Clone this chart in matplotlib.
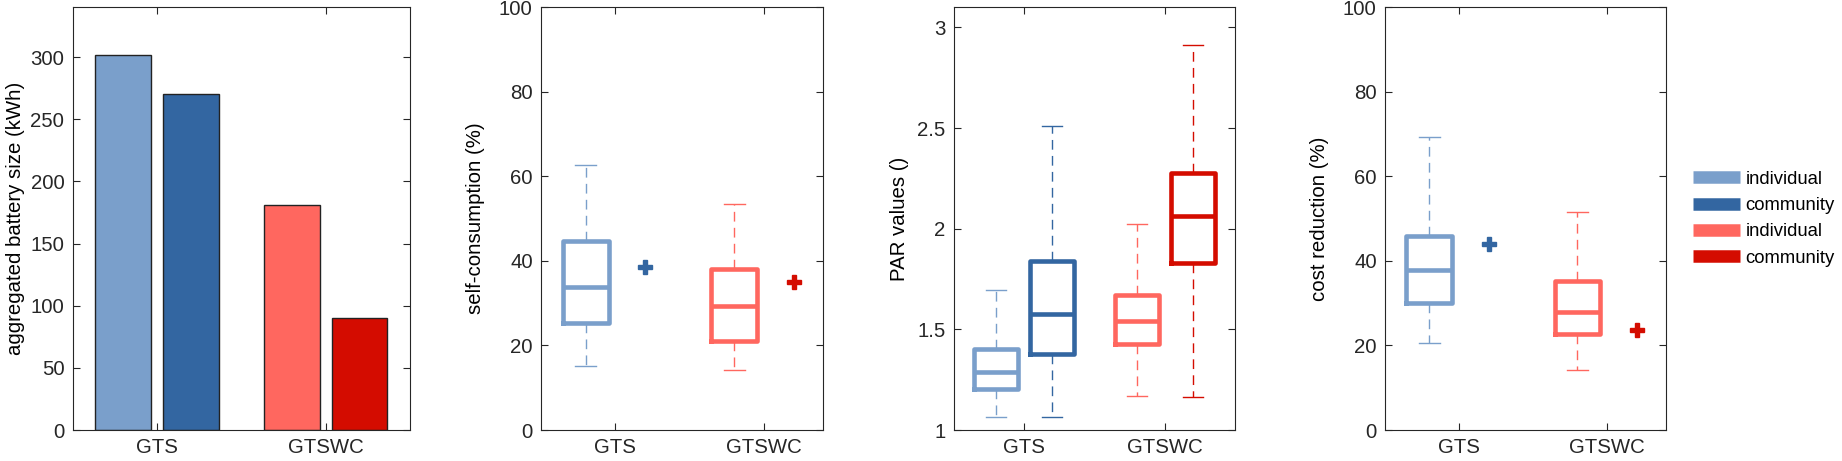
import matplotlib
matplotlib.use("Agg")
import matplotlib.pyplot as plt
from matplotlib.lines import Line2D

plt.rcParams['font.family'] = ['Liberation Sans', 'DejaVu Sans']

# colores
c_ind_gts = "#7a9fcb"
c_com_gts = "#3366a1"
c_ind_wc = "#ff675f"
c_com_wc = "#d40c00"

grupos = ["GTS", "GTSWC"]

# panel 1: tamaño de batería agregado (kWh)
bateria_individual = [302, 181]
bateria_comunidad = [270, 90]

# panel 2: autoconsumo (%)  [whislo, q1, med, q3, whishi]
autoc_gts_ind = [15.1, 25.2, 33.9, 44.6, 62.8]
autoc_wc_ind = [14.2, 21.0, 29.3, 38.0, 53.5]
autoc_comunidad = [38.6, 34.9]

# panel 3: valores PAR
par_gts_ind = [1.065, 1.204, 1.287, 1.403, 1.697]
par_gts_com = [1.065, 1.380, 1.574, 1.838, 2.512]
par_wc_ind = [1.169, 1.428, 1.541, 1.672, 2.023]
par_wc_com = [1.164, 1.829, 2.063, 2.277, 2.915]

# panel 4: reducción de costo (%)
costo_gts_ind = [20.5, 30.1, 37.9, 45.9, 69.2]
costo_wc_ind = [14.1, 22.7, 27.9, 35.3, 51.5]
costo_comunidad = [44.1, 23.7]

W, H = 1842, 461
fig = plt.figure(figsize=(W / 100, H / 100), dpi=100)

FS = 14.7


def ejes(izq, der, arriba=7.3, abajo=430):
    ax = fig.add_axes([izq / W, 1 - abajo / H, (der - izq) / W, (abajo - arriba) / H])
    ax.tick_params(direction="in", top=True, right=True, labelsize=FS,
                   length=5, width=0.8, colors="#262626", pad=6)
    for s in ax.spines.values():
        s.set_color("#262626")
        s.set_linewidth(0.8)
    return ax


def caja(ax, pos, vals, color):
    st = dict(whislo=vals[0], q1=vals[1], med=vals[2], q3=vals[3], whishi=vals[4], fliers=[])
    ax.bxp([st], positions=[pos], widths=0.31, showfliers=False,
           boxprops=dict(color=color, linewidth=3.3),
           medianprops=dict(color=color, linewidth=3.3),
           whiskerprops=dict(color=color, linewidth=1.0, linestyle=(0, (7, 4.5))),
           capprops=dict(color=color, linewidth=1.0),
           capwidths=0.14)


x = [1, 2]

# PANEL 1
ax1 = ejes(72.7, 410)
ax1.bar([p - 0.2 for p in x], bateria_individual, width=0.33,
        color=[c_ind_gts, c_ind_wc], edgecolor="#222222", linewidth=1)
ax1.bar([p + 0.2 for p in x], bateria_comunidad, width=0.33,
        color=[c_com_gts, c_com_wc], edgecolor="#222222", linewidth=1)
ax1.set_xlim(0.5, 2.5)
ax1.set_ylim(0, 340)
ax1.set_yticks([0, 50, 100, 150, 200, 250, 300])
ax1.set_xticks(x)
ax1.set_xticklabels(grupos)
ax1.set_ylabel("aggregated battery size (kWh)", fontsize=FS, labelpad=4)

# PANEL 2
ax2 = ejes(541, 823.3)
caja(ax2, 0.8, autoc_gts_ind, c_ind_gts)
caja(ax2, 1.8, autoc_wc_ind, c_ind_wc)
ax2.plot([1.2], [autoc_comunidad[0]], marker="P", color=c_com_gts, markersize=10, linestyle="none")
ax2.plot([2.2], [autoc_comunidad[1]], marker="P", color=c_com_wc, markersize=10, linestyle="none")
ax2.set_xlim(0.5, 2.4)
ax2.set_ylim(0, 100)
ax2.set_yticks([0, 20, 40, 60, 80, 100])
ax2.set_xticks(x)
ax2.set_xticklabels(grupos)
ax2.set_ylabel("self-consumption (%)", fontsize=FS, labelpad=10)

# PANEL 3
ax3 = ejes(953.7, 1235.3)
caja(ax3, 0.8, par_gts_ind, c_ind_gts)
caja(ax3, 1.2, par_gts_com, c_com_gts)
caja(ax3, 1.8, par_wc_ind, c_ind_wc)
caja(ax3, 2.2, par_wc_com, c_com_wc)
ax3.set_xlim(0.5, 2.5)
ax3.set_ylim(1, 3.1)
ax3.set_yticks([1, 1.5, 2, 2.5, 3])
ax3.set_yticklabels(["1", "1.5", "2", "2.5", "3"])
ax3.set_xticks(x)
ax3.set_xticklabels(grupos)
ax3.set_ylabel("PAR values ()", fontsize=FS, labelpad=6)

# PANEL 4
ax4 = ejes(1385, 1666.3)
caja(ax4, 0.8, costo_gts_ind, c_ind_gts)
caja(ax4, 1.8, costo_wc_ind, c_ind_wc)
ax4.plot([1.2], [costo_comunidad[0]], marker="P", color=c_com_gts, markersize=10, linestyle="none")
ax4.plot([2.2], [costo_comunidad[1]], marker="P", color=c_com_wc, markersize=10, linestyle="none")
ax4.set_xlim(0.5, 2.4)
ax4.set_ylim(0, 100)
ax4.set_yticks([0, 20, 40, 60, 80, 100])
ax4.set_xticks(x)
ax4.set_xticklabels(grupos)
ax4.set_ylabel("cost reduction (%)", fontsize=FS, labelpad=10)

# LEYENDA
handles = [Line2D([], [], color=c, linewidth=9, solid_capstyle="butt")
           for c in [c_ind_gts, c_com_gts, c_ind_wc, c_com_wc]]
labels = ["individual", "community", "individual", "community"]
fig.legend(handles, labels, loc="center left", bbox_to_anchor=(1693 / W, 1 - 218.7 / H),
           frameon=False, fontsize=13.3, handlelength=2.55, handletextpad=0.3,
           labelspacing=0.5, borderpad=0, borderaxespad=0)

fig.savefig("out.png", dpi=100)
